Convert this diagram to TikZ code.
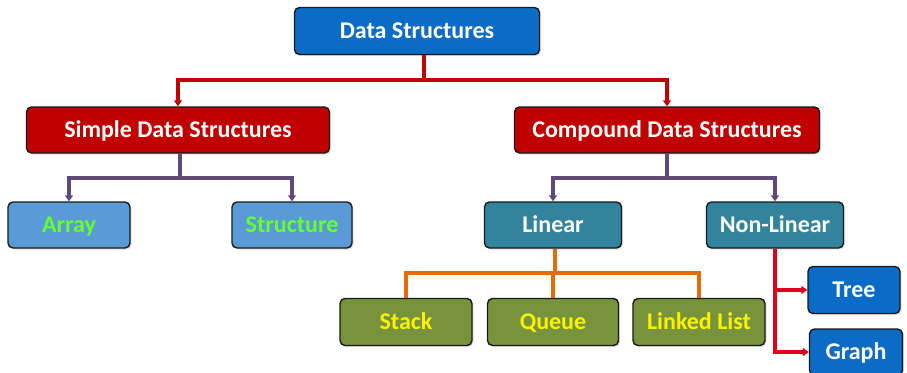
\documentclass[tikz,border=0pt]{standalone}
\usepackage{fontspec}
\setmainfont{Carlito}
\usetikzlibrary{arrows.meta,shadows}
\definecolor{dsblue}{HTML}{0A6CC4}
\definecolor{dsred}{HTML}{C00000}
\definecolor{lblue}{HTML}{5B9BD5}
\definecolor{teal}{HTML}{31849B}
\definecolor{olive}{HTML}{77933C}
\definecolor{purp}{HTML}{5F497A}
\definecolor{orng}{HTML}{E36C09}
\definecolor{lgreen}{HTML}{66FF33}
\definecolor{lred}{HTML}{E0001B}
\tikzset{
  box/.style={draw=black!90, line width=1.4pt, rounded corners=5pt, inner sep=0pt,
    font=\bfseries\fontsize{24}{26}\selectfont,
    text height=15.5pt, text depth=0pt,
    drop shadow={shadow xshift=1.5pt, shadow yshift=-1.5pt, opacity=0.25}},
  bluebox/.style={box, fill=dsblue, text=white},
  redbox/.style={box, fill=dsred, text=white},
  lbox/.style={box, fill=lblue, text=lgreen},
  tbox/.style={box, fill=teal, text=white},
  gbox/.style={box, fill=olive, text=yellow},
  conn/.style={line width=3.5pt},
  tip/.style={-{Triangle[length=6pt,width=8pt]}},
}
\begin{document}
\begin{tikzpicture}[x=1pt,y=-1pt]
\useasboundingbox[fill=white] (0,0) rectangle (907,372);
\node[bluebox, minimum width=245pt, minimum height=47pt] (ds) at (417,31) {Data Structures};
\node[redbox, minimum width=303pt, minimum height=46pt] (sds) at (178,130) {Simple Data Structures};
\node[redbox, minimum width=305pt, minimum height=46pt] (cds) at (667,130) {Compound Data Structures};
\node[lbox, minimum width=122pt, minimum height=46pt] (arr) at (69,225) {Array};
\node[lbox, minimum width=120pt, minimum height=46pt] (str) at (292,225) {Structure};
\node[tbox, minimum width=137pt, minimum height=46pt] (lin) at (553,225) {Linear};
\node[tbox, minimum width=137pt, minimum height=46pt] (nl) at (775,225) {Non-Linear};
\node[gbox, minimum width=132pt, minimum height=47pt] (stk) at (406,322) {Stack};
\node[gbox, minimum width=131pt, minimum height=47pt] (que) at (553,322) {Queue};
\node[gbox, minimum width=132pt, minimum height=47pt] (ll) at (699,322) {Linked List};
\node[bluebox, minimum width=92pt, minimum height=47pt] (tree) at (854,290) {Tree};
\node[bluebox, minimum width=93pt, minimum height=46pt] (gr) at (856,352) {Graph};
% connectors
\coordinate (r1) at (424,80);
\draw[conn, dsred] (ds.south -| r1) -- (r1);
\draw[conn, dsred, tip] (r1) -| (sds.north);
\draw[conn, dsred, tip] (r1) -| (cds.north);
\coordinate (p1) at (180,178);
\draw[conn, purp] (sds.south -| p1) -- (p1);
\draw[conn, purp, tip] (p1) -| (arr.north);
\draw[conn, purp, tip] (p1) -| (str.north);
\coordinate (p2) at (667,178);
\draw[conn, purp] (cds.south) -- (p2);
\draw[conn, purp, tip] (p2) -| (lin.north);
\draw[conn, purp, tip] (p2) -| (nl.north);
\coordinate (o1) at (555,273);
\draw[conn, orng] (lin.south -| o1) -- (o1);
\draw[conn, orng] (o1) -| (stk.north);
\draw[conn, orng] (o1) -| (que.north);
\draw[conn, orng] (o1) -| (ll.north);
\draw[conn, lred, tip] (nl.south) |- (tree.west);
\draw[conn, lred, tip] (nl.south) |- (gr.west);
\end{tikzpicture}
\end{document}
